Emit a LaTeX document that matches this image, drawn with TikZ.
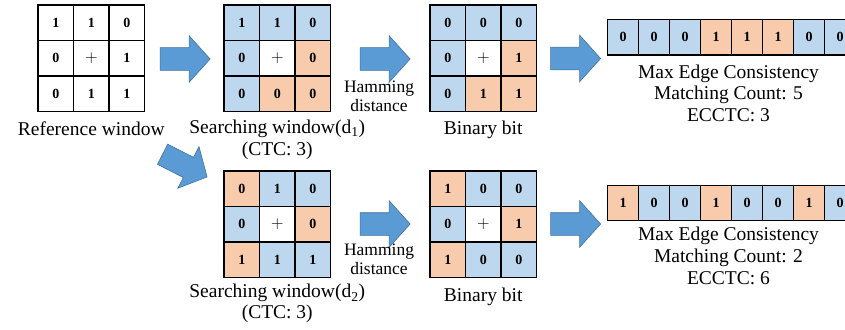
\documentclass[tikz,border=0pt]{standalone}
\usepackage{fontspec}
\setmainfont{Liberation Serif}
\usetikzlibrary{positioning,shapes.arrows}
\definecolor{cellblue}{HTML}{BDD7EE}
\definecolor{cellorange}{HTML}{F8CBAD}
\definecolor{arrowblue}{HTML}{5B9BD5}
\definecolor{arrowedge}{HTML}{41719C}

\tikzset{
  cell/.style={draw=black, line width=1.3pt, minimum width=35.5pt,
    minimum height=35.5pt, inner sep=0pt, outer sep=0pt,
    font=\fontsize{14}{14}\selectfont\bfseries},
  bitcell/.style={cell, minimum width=31pt, minimum height=35.5pt},
  bigarrow/.style={single arrow, draw=arrowedge, fill=arrowblue,
    line width=0.6pt, minimum height=50pt, inner xsep=0pt, inner ysep=11pt,
    single arrow head extend=12pt, single arrow tip angle=96, outer sep=0pt},
  lbl/.style={font=\fontsize{19.5}{22}\selectfont, align=center, inner sep=0pt},
  hamlbl/.style={font=\fontsize{17.5}{19}\selectfont, align=center,
    inner sep=0pt, anchor=north}
}

\newcommand\plusmark{{\fontsize{16}{16}\selectfont$+$}}
% 3x3 window: name, left, top, list of value/colour
\newcommand\cellwindow[4]{%
  \foreach \v/\c [count=\k from 0] in {#4} {
    \pgfmathtruncatemacro\row{div(\k,3)}
    \pgfmathtruncatemacro\col{mod(\k,3)}
    \node[cell, fill=\c] (#1-\k) at ({#2+(\col+0.5)*35.5}, {#3+(\row+0.5)*35.5}) {\v};
  }}

\begin{document}
\begin{tikzpicture}[x=1pt, y=-1pt]
\useasboundingbox (0,0) rectangle (845,329);
\clip (0,0) rectangle (845,329);

% upper row
\cellwindow{ref}{38}{5}{1/white, 1/white, 0/white, 0/white, \plusmark/white, 1/white, 0/white, 1/white, 1/white}
\cellwindow{swa}{224}{5}{1/cellblue, 1/cellblue, 0/cellblue, 0/cellblue, \plusmark/white, 0/cellorange, 0/cellblue, 0/cellorange, 0/cellorange}
\cellwindow{bba}{430}{5}{0/cellblue, 0/cellblue, 0/cellblue, 0/cellblue, \plusmark/white, 1/cellorange, 0/cellblue, 1/cellorange, 1/cellorange}
\foreach \v/\c [count=\k from 0] in {0/cellblue, 0/cellblue, 0/cellblue, 1/cellorange, 1/cellorange, 1/cellorange, 0/cellblue, 0/cellblue}
  \node[bitcell, fill=\c] (meca-\k) at ({607.5+(\k+0.5)*31}, 37.3) {\v};

\node[bigarrow] (arra) at (180,59) {};
\node[bigarrow] (arrb) at (380,59) {};
\node[bigarrow] (arrc) at (570.5,58.5) {};
\node[bigarrow, rotate=-27] (arrd) at (180.3,163.3) {};

\node[lbl, anchor=north, below=10.5pt of ref-7] (reflbl) {Reference window};
\node[lbl, anchor=north, below=8.5pt of swa-7] (swalbl) {Searching window(d\textsubscript{1})\\(CTC: 3)};
\node[lbl, anchor=north, below=9pt of bba-7] (bbalbl) {Binary bit};
\node[hamlbl] (hama) at (379,81) {Hamming\\distance};
\node[lbl, anchor=north, below=9.7pt of meca-3.south east, xshift=-3pt, font=\fontsize{19.5}{21.5}\selectfont] (mecalbl)
  {Max Edge Consistency\\Matching Count: 5\\ECCTC: 3};

% lower row
\cellwindow{swb}{224}{171}{0/cellorange, 1/cellblue, 0/cellblue, 0/cellblue, \plusmark/white, 0/cellorange, 1/cellorange, 1/cellblue, 1/cellblue}
\cellwindow{bbb}{430}{171}{1/cellorange, 0/cellblue, 0/cellblue, 0/cellblue, \plusmark/white, 1/cellorange, 1/cellorange, 0/cellblue, 0/cellblue}
\foreach \v/\c [count=\k from 0] in {1/cellorange, 0/cellblue, 0/cellblue, 1/cellorange, 0/cellblue, 0/cellblue, 1/cellorange, 0/cellblue}
  \node[bitcell, fill=\c] (mecb-\k) at ({607.5+(\k+0.5)*31}, 203) {\v};

\node[bigarrow] (arre) at (380,224) {};
\node[bigarrow] (arrf) at (570.5,224) {};

\node[lbl, anchor=north, below=6.7pt of swb-7, font=\fontsize{19.5}{20.3}\selectfont] (swblbl) {Searching window(d\textsubscript{2})\\(CTC: 3)};
\node[lbl, anchor=north, below=10pt of bbb-7] (bbblbl) {Binary bit};
\node[hamlbl] (hamb) at (379,244) {Hamming\\distance};
\node[lbl, anchor=north, below=6.5pt of mecb-3.south east, xshift=-3pt] (mecblbl)
  {Max Edge Consistency\\Matching Count: 2\\ECCTC: 6};
\end{tikzpicture}
\end{document}
